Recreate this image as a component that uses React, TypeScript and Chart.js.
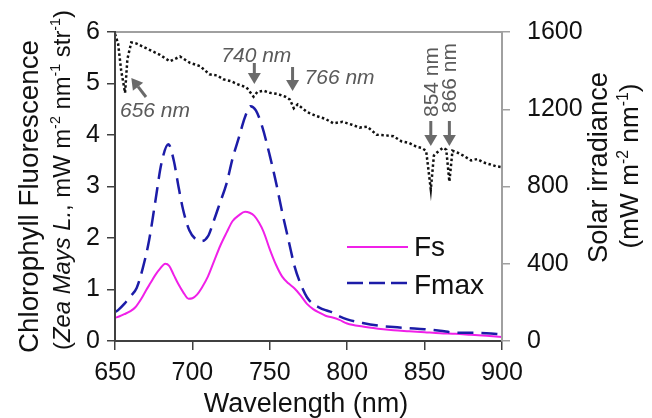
import React, { useEffect, useRef } from "react";
import { Chart, registerables } from "chart.js";

Chart.register(...registerables);

// ---- data ----
const fsWl = [650, 653, 656, 660, 663, 667, 670, 673, 676, 679, 682.5, 685, 688, 691, 694, 697.5, 700, 703, 706, 710, 714, 718, 722, 726, 730, 734, 737, 740, 743, 746, 750, 754, 758, 762, 766, 770, 774, 778, 782, 786, 790, 795, 800, 810, 820, 830, 840, 850, 860, 870, 880, 890, 900];
const fsVals = [0.45, 0.48, 0.52, 0.58, 0.65, 0.82, 0.98, 1.13, 1.28, 1.4, 1.5, 1.46, 1.28, 1.1, 0.95, 0.82, 0.83, 0.9, 1.03, 1.25, 1.55, 1.85, 2.1, 2.33, 2.44, 2.51, 2.49, 2.43, 2.3, 2.12, 1.78, 1.48, 1.25, 1.12, 1.02, 0.88, 0.72, 0.62, 0.55, 0.49, 0.46, 0.41, 0.34, 0.28, 0.24, 0.21, 0.19, 0.17, 0.15, 0.14, 0.12, 0.1, 0.08];

const fmaxWl = [650, 652, 656, 660, 664, 668, 672, 676, 680, 684.5, 688, 691, 694, 698, 702, 706, 710, 714, 718, 722, 726, 730, 734, 737.5, 741, 745, 750, 754, 758, 762, 766, 770, 774, 778, 782, 786, 790, 795, 800, 810, 820, 830, 840, 850, 860, 870, 880, 890, 900];
const fmaxVals = [0.56, 0.6, 0.72, 0.87, 1.03, 1.42, 1.95, 2.7, 3.45, 3.82, 3.5, 3.0, 2.55, 2.15, 1.98, 1.94, 2.03, 2.35, 2.7, 3.05, 3.55, 3.95, 4.35, 4.56, 4.48, 4.17, 3.6, 3.08, 2.5, 1.97, 1.45, 1.1, 0.85, 0.72, 0.65, 0.6, 0.56, 0.48, 0.42, 0.35, 0.3, 0.27, 0.25, 0.23, 0.2, 0.16, 0.16, 0.15, 0.13];

const solarWl = [650, 652, 654, 656.5, 658, 660.5, 664, 668, 673, 679, 685.5, 692, 698.5, 705, 711, 716, 720, 725, 729, 735, 739.5, 742, 746, 750, 755, 760, 763, 765.5, 768, 774, 780, 786, 791, 797, 803, 808, 813, 819, 825, 830, 835, 840, 845, 848, 851, 854, 856, 858, 862, 864, 866, 868, 871, 875, 880, 884, 888, 892, 896, 900];
const solarVals = [1590, 1540, 1400, 1285, 1460, 1546, 1540, 1524, 1505, 1482, 1448, 1473, 1440, 1423, 1381, 1375, 1355, 1345, 1330, 1313, 1265, 1290, 1296, 1285, 1279, 1265, 1250, 1205, 1225, 1186, 1165, 1150, 1127, 1135, 1120, 1105, 1110, 1068, 1065, 1060, 1034, 1025, 1005, 1000, 985, 785, 960, 976, 1001, 990, 825, 985, 976, 960, 935, 942, 925, 915, 905, 900];

const xTicks = [650, 700, 750, 800, 850, 900];
const yLeftTicks = [0, 1, 2, 3, 4, 5, 6];
const yRightTicks = [0, 400, 800, 1200, 1600];

const seriesLabels = ["Fs", "Fmax"];
const annotLabels = [
  { wl: 656, text: "656 nm" },
  { wl: 740, text: "740 nm" },
  { wl: 766, text: "766 nm" },
  { wl: 854, text: "854 nm" },
  { wl: 866, text: "866 nm" },
];

const FONT = "'Liberation Sans', Arial, sans-serif";
const FS_COLOR = "#f020e8";
const FMAX_COLOR = "#1c1ca8";
const ANN_COLOR = "#5a5a5a";

type Run = { t: string; italic?: boolean; sup?: boolean };

function runsWidth(ctx: CanvasRenderingContext2D, runs: Run[], size: number) {
  let w = 0;
  for (const r of runs) {
    const s = r.sup ? size * 0.6 : size;
    ctx.font = `${r.italic ? "italic " : ""}${s}px ${FONT}`;
    w += ctx.measureText(r.t).width;
  }
  return w;
}

function drawRuns(ctx: CanvasRenderingContext2D, runs: Run[], size: number, x: number, y: number) {
  let cx = x;
  ctx.textBaseline = "alphabetic";
  ctx.textAlign = "left";
  for (const r of runs) {
    const s = r.sup ? size * 0.6 : size;
    ctx.font = `${r.italic ? "italic " : ""}${s}px ${FONT}`;
    ctx.fillText(r.t, cx, r.sup ? y - size * 0.4 : y);
    cx += ctx.measureText(r.t).width;
  }
}

// draws rotated text whose length fits `len` pixels, centred on cy
function drawRotatedFit(ctx: CanvasRenderingContext2D, runs: Run[], baseSize: number, len: number, bx: number, cy: number) {
  ctx.save();
  ctx.translate(bx, cy);
  ctx.rotate(-Math.PI / 2);
  const w0 = runsWidth(ctx, runs, baseSize);
  const size = Math.min(baseSize * 1.1, (baseSize * len) / w0);
  const w = runsWidth(ctx, runs, size);
  drawRuns(ctx, runs, size, -w / 2, 0);
  ctx.restore();
}

function arrow(ctx: CanvasRenderingContext2D, x1: number, y1: number, x2: number, y2: number) {
  const ang = Math.atan2(y2 - y1, x2 - x1);
  const hl = 11;
  const hw = 6.5;
  const bx = x2 - hl * Math.cos(ang);
  const by = y2 - hl * Math.sin(ang);
  ctx.save();
  ctx.strokeStyle = "#6a6a6a";
  ctx.fillStyle = "#6a6a6a";
  ctx.lineWidth = 3;
  ctx.beginPath();
  ctx.moveTo(x1, y1);
  ctx.lineTo(bx, by);
  ctx.stroke();
  ctx.beginPath();
  ctx.moveTo(x2, y2);
  ctx.lineTo(bx + hw * Math.sin(ang), by - hw * Math.cos(ang));
  ctx.lineTo(bx - hw * Math.sin(ang), by + hw * Math.cos(ang));
  ctx.closePath();
  ctx.fill();
  ctx.restore();
}

const decorPlugin = {
  id: "decor",
  afterDraw(chart: any) {
    const ctx: CanvasRenderingContext2D = chart.ctx;
    const { left, right, top, bottom } = chart.chartArea;
    const xs = chart.scales.x;
    ctx.save();
    // frame top & right
    ctx.strokeStyle = "#a0a0a0";
    ctx.lineWidth = 2;
    ctx.beginPath();
    ctx.moveTo(left, top);
    ctx.lineTo(right, top);
    ctx.lineTo(right, bottom);
    ctx.stroke();
    ctx.strokeStyle = "#404040";
    ctx.beginPath();
    ctx.moveTo(left, top - 1);
    ctx.lineTo(left, bottom);
    ctx.stroke();

    // annotations
    ctx.fillStyle = ANN_COLOR;
    const [a656, a740, a766, a854, a866] = annotLabels;
    ctx.font = `italic 21px ${FONT}`;
    ctx.textAlign = "left";
    ctx.textBaseline = "alphabetic";
    ctx.fillText(a656.text, left + 5, 117);
    ctx.fillText(a740.text, xs.getPixelForValue(a740.wl) - 33, 62);
    ctx.fillText(a766.text, xs.getPixelForValue(a766.wl) + 10, 84);
    arrow(ctx, left + 31, 97, xs.getPixelForValue(a656.wl) + 7, 78);
    arrow(ctx, xs.getPixelForValue(a740.wl), 63, xs.getPixelForValue(a740.wl), 84);
    arrow(ctx, xs.getPixelForValue(a766.wl) - 2, 67, xs.getPixelForValue(a766.wl) - 2, 91);
    arrow(ctx, xs.getPixelForValue(a854.wl), 121, xs.getPixelForValue(a854.wl), 146);
    arrow(ctx, xs.getPixelForValue(a866.wl), 121, xs.getPixelForValue(a866.wl), 146);
    for (const [a, by] of [[a854, 117], [a866, 113]] as [typeof a854, number][]) {
      ctx.save();
      ctx.translate(xs.getPixelForValue(a.wl) + 7, by);
      ctx.rotate(-Math.PI / 2);
      ctx.fillStyle = ANN_COLOR;
      ctx.font = `21px ${FONT}`;
      ctx.textAlign = "left";
      ctx.fillText(a.text, 0, 0);
      ctx.restore();
    }

    // legend
    const lx0 = 347;
    const lx1 = 408;
    ctx.lineWidth = 2;
    ctx.strokeStyle = FS_COLOR;
    ctx.setLineDash([]);
    ctx.beginPath();
    ctx.moveTo(lx0, 247);
    ctx.lineTo(lx1, 247);
    ctx.stroke();
    ctx.lineWidth = 2.5;
    ctx.strokeStyle = FMAX_COLOR;
    ctx.setLineDash([16, 6]);
    ctx.beginPath();
    ctx.moveTo(lx0, 283);
    ctx.lineTo(lx1 + 2, 283);
    ctx.stroke();
    ctx.setLineDash([]);
    ctx.fillStyle = "#111";
    ctx.font = `28px ${FONT}`;
    ctx.fillText(seriesLabels[0], 414, 256);
    ctx.fillText(seriesLabels[1], 414, 294);

    // axis titles
    ctx.fillStyle = "#111";
    ctx.font = `27px ${FONT}`;
    ctx.textAlign = "center";
    ctx.fillText("Wavelength (nm)", 306, 412);

    drawRotatedFit(ctx, [{ t: "Chlorophyll Fluorescence" }], 27, 313, 37.5, 196.5);
    drawRotatedFit(
      ctx,
      [
        { t: "(" },
        { t: "Zea Mays L.", italic: true },
        { t: ", mW m" },
        { t: "-2", sup: true },
        { t: " nm" },
        { t: "-1", sup: true },
        { t: " str" },
        { t: "-1", sup: true },
        { t: ")" },
      ],
      26,
      340,
      70,
      180
    );
    drawRotatedFit(ctx, [{ t: "Solar irradiance" }], 27, 191, 606.5, 167.5);
    drawRotatedFit(
      ctx,
      [{ t: "(mW m" }, { t: "-2", sup: true }, { t: " nm" }, { t: "-1", sup: true }, { t: ")" }],
      26,
      165,
      638,
      166
    );
    ctx.restore();
  },
};

export default function App() {
  const ref = useRef<HTMLCanvasElement | null>(null);
  useEffect(() => {
    document.body.style.margin = "0";
    const canvas = ref.current!;
    const tickFont = { family: FONT, size: 25 };
    const plain = (v: any) => String(v);
    const chart = new Chart(canvas, {
      type: "line",
      data: {
        datasets: [
          {
            label: "Solar",
            data: solarWl.map((x, i) => ({ x, y: solarVals[i] })),
            yAxisID: "y2",
            borderColor: "#111",
            borderWidth: 2.5,
            borderDash: [2.5, 2.5],
            pointRadius: 0,
            tension: 0,
          },
          {
            label: seriesLabels[1],
            data: fmaxWl.map((x, i) => ({ x, y: fmaxVals[i] })),
            yAxisID: "y",
            borderColor: FMAX_COLOR,
            borderWidth: 2.5,
            borderDash: [16, 8],
            pointRadius: 0,
            cubicInterpolationMode: "monotone",
          },
          {
            label: seriesLabels[0],
            data: fsWl.map((x, i) => ({ x, y: fsVals[i] })),
            yAxisID: "y",
            borderColor: FS_COLOR,
            borderWidth: 2,
            pointRadius: 0,
            cubicInterpolationMode: "monotone",
          },
        ],
      },
      options: {
        responsive: false,
        animation: false,
        layout: { padding: { top: 25, left: 0, right: 0, bottom: 0 } },
        plugins: { legend: { display: false }, tooltip: { enabled: false } },
        scales: {
          x: {
            type: "linear",
            min: 650,
            max: 900,
            afterBuildTicks: (s: any) => {
              s.ticks = xTicks.map((v) => ({ value: v }));
            },
            ticks: { font: tickFont, color: "#111", padding: 8, maxRotation: 0, autoSkip: false, callback: plain },
            grid: { drawOnChartArea: false, tickLength: 9, color: "#404040", lineWidth: 1.5 },
            border: { color: "#404040", width: 2 },
            afterFit: (s: any) => {
              s.height = 77;
            },
          },
          y: {
            position: "left",
            min: 0,
            max: 6,
            afterBuildTicks: (s: any) => {
              s.ticks = yLeftTicks.map((v) => ({ value: v }));
            },
            ticks: { font: tickFont, color: "#111", padding: 7, callback: plain },
            grid: { drawOnChartArea: false, tickLength: 8, color: "#404040", lineWidth: 1.5 },
            border: { color: "#404040", width: 2 },
            afterFit: (s: any) => {
              s.width = 115;
            },
          },
          y2: {
            position: "right",
            min: 0,
            max: 1600,
            afterBuildTicks: (s: any) => {
              s.ticks = yRightTicks.map((v) => ({ value: v }));
            },
            ticks: { font: tickFont, color: "#111", padding: 17, callback: plain },
            grid: { drawOnChartArea: false, tickLength: 8, color: "#a0a0a0", lineWidth: 1.5 },
            border: { color: "#a0a0a0", width: 2 },
            afterFit: (s: any) => {
              s.width = 150;
            },
          },
        },
      },
      plugins: [decorPlugin],
    } as any);
    return () => chart.destroy();
  }, []);
  return <canvas ref={ref} width={652} height={418} style={{ display: "block" }} />;
}
